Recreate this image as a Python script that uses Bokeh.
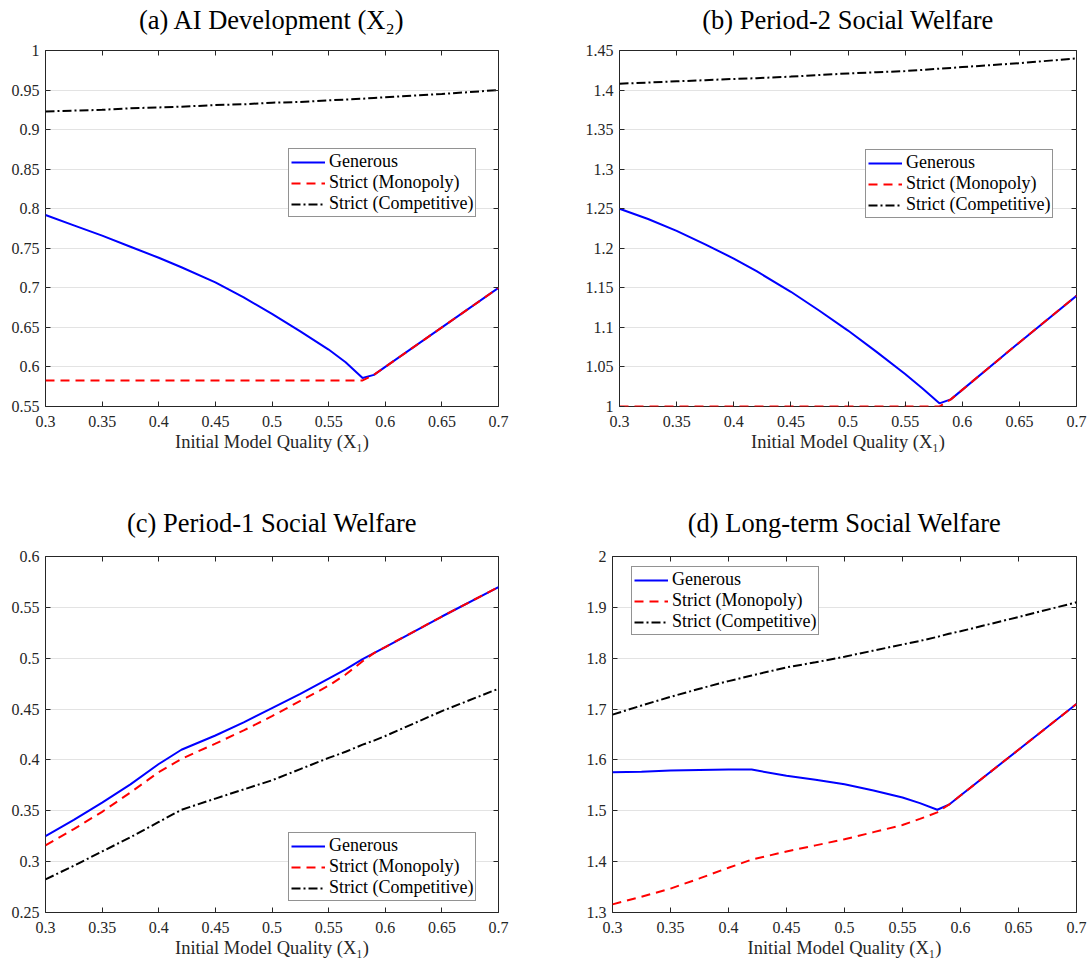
from bokeh.plotting import figure
from bokeh.layouts import column, row
from bokeh.models import Range1d, FixedTicker, LinearAxis, CustomJSTickFormatter
from bokeh.embed import file_html
from bokeh.resources import INLINE

# ---------------- data ----------------
x1 = [0.30, 0.325, 0.35, 0.375, 0.40, 0.42, 0.45, 0.475, 0.50, 0.525, 0.55, 0.565, 0.58, 0.59, 0.60, 0.65, 0.70]

# (a) AI Development (X2)
a_generous = [0.792, 0.779, 0.766, 0.752, 0.738, 0.726, 0.707, 0.688, 0.667, 0.645, 0.622, 0.606, 0.586, 0.590, 0.600, 0.650, 0.700]
a_monopoly = [0.583, 0.583, 0.583, 0.583, 0.583, 0.583, 0.583, 0.583, 0.583, 0.583, 0.583, 0.583, 0.583, 0.590, 0.600, 0.650, 0.700]
a_competitive = [0.923, 0.924, 0.925, 0.927, 0.928, 0.929, 0.931, 0.932, 0.934, 0.935, 0.937, 0.938, 0.939, 0.940, 0.941, 0.945, 0.950]

# (b) Period-2 Social Welfare
b_generous = [1.250, 1.237, 1.222, 1.205, 1.187, 1.171, 1.145, 1.121, 1.096, 1.069, 1.041, 1.023, 1.004, 1.009, 1.021, 1.081, 1.140]
b_monopoly = [1.000, 1.000, 1.000, 1.000, 1.000, 1.000, 1.000, 1.000, 1.000, 1.000, 1.000, 1.000, 1.000, 1.009, 1.021, 1.081, 1.140]
b_competitive = [1.408, 1.4095, 1.411, 1.4125, 1.414, 1.415, 1.417, 1.419, 1.421, 1.4225, 1.424, 1.4255, 1.427, 1.428, 1.429, 1.434, 1.440]

# (c) Period-1 Social Welfare
c_generous = [0.325, 0.341, 0.358, 0.376, 0.396, 0.410, 0.424, 0.437, 0.451, 0.465, 0.480, 0.489, 0.499, 0.505, 0.511, 0.541, 0.570]
c_monopoly = [0.316, 0.332, 0.349, 0.368, 0.388, 0.401, 0.416, 0.429, 0.443, 0.458, 0.473, 0.484, 0.497, 0.505, 0.511, 0.541, 0.570]
c_competitive = [0.2825, 0.296, 0.310, 0.324, 0.339, 0.351, 0.362, 0.371, 0.380, 0.391, 0.402, 0.408, 0.415, 0.419, 0.4235, 0.448, 0.470]

# (d) Long-term Social Welfare
d_generous = [1.576, 1.577, 1.579, 1.580, 1.581, 1.581, 1.569, 1.561, 1.552, 1.540, 1.526, 1.515, 1.502, 1.512, 1.530, 1.620, 1.710]
d_monopoly = [1.316, 1.331, 1.347, 1.367, 1.388, 1.404, 1.420, 1.432, 1.444, 1.458, 1.472, 1.484, 1.497, 1.512, 1.530, 1.620, 1.710]
d_competitive = [1.689, 1.707, 1.724, 1.740, 1.755, 1.766, 1.782, 1.792, 1.803, 1.815, 1.827, 1.834, 1.842, 1.848, 1.853, 1.881, 1.910]

x_ticks = [0.3, 0.35, 0.4, 0.45, 0.5, 0.55, 0.6, 0.65, 0.7]
a_yticks = [0.55, 0.6, 0.65, 0.7, 0.75, 0.8, 0.85, 0.9, 0.95, 1.0]
b_yticks = [1.0, 1.05, 1.1, 1.15, 1.2, 1.25, 1.3, 1.35, 1.4, 1.45]
c_yticks = [0.25, 0.3, 0.35, 0.4, 0.45, 0.5, 0.55, 0.6]
d_yticks = [1.3, 1.4, 1.5, 1.6, 1.7, 1.8, 1.9, 2.0]

titles = ["(a) AI Development (X\u2082)", "(b) Period-2 Social Welfare",
          "(c) Period-1 Social Welfare", "(d) Long-term Social Welfare"]
xlabel = "Initial Model Quality (X\u2081)"
series_names = ["Generous", "Strict (Monopoly)", "Strict (Competitive)"]

FONT = "Liberation Serif"
AX = "#262626"
fmt = CustomJSTickFormatter(code="return String(Number(tick.toFixed(4)));")
blank = CustomJSTickFormatter(code="return '';")


def panel(title, gen, mono, comp, yticks, legend_loc, width, height, bl, br, bt, bb, title_pad):
    p = figure(width=width, height=height, output_backend="svg", toolbar_location=None,
               x_range=Range1d(x_ticks[0], x_ticks[-1]), y_range=Range1d(yticks[0], yticks[-1]),
               min_border_left=bl, min_border_right=br, min_border_top=bt, min_border_bottom=bb,
               background_fill_color="white", border_fill_color="white")
    p.outline_line_color = AX
    p.outline_line_width = 1
    p.outline_line_alpha = 1

    p.xaxis.ticker = FixedTicker(ticks=x_ticks)
    p.yaxis.ticker = FixedTicker(ticks=yticks)
    for ax in (p.xaxis[0], p.yaxis[0]):
        ax.formatter = fmt
        ax.major_tick_in = 5
        ax.major_tick_out = 0
        ax.minor_tick_line_color = None
        ax.axis_line_color = None
        ax.major_tick_line_color = AX
        ax.major_label_text_font = FONT
        ax.major_label_text_font_size = "16px"
        ax.major_label_text_color = AX
    p.xaxis.major_label_standoff = 9
    p.yaxis.major_label_standoff = 6
    p.xaxis.axis_label = xlabel
    p.xaxis.axis_label_text_font = FONT
    p.xaxis.axis_label_text_font_size = "18.5px"
    p.xaxis.axis_label_text_font_style = "normal"
    p.xaxis.axis_label_text_color = AX
    p.xaxis.axis_label_standoff = 2

    # mirrored tick marks on the top and right edges (MATLAB "box on" look)
    for loc, tk in (("above", x_ticks), ("right", yticks)):
        m = LinearAxis(ticker=FixedTicker(ticks=tk), formatter=blank,
                       major_label_text_font_size="1px",
                       major_tick_in=5, major_tick_out=0, minor_tick_line_color=None,
                       axis_line_color=None, major_tick_line_color=AX, major_label_standoff=0)
        p.add_layout(m, loc)

    p.title.text = title
    p.title.text_font = FONT
    p.title.text_font_size = "26.5px"
    p.title.text_font_style = "normal"
    p.title.text_color = "black"
    p.title.align = "center"
    p.title.standoff = 4
    p.title.padding = dict(left=0, right=0, top=0, bottom=title_pad)

    p.xgrid.grid_line_color = None
    p.ygrid.grid_line_color = "#e3e3e3"
    p.ygrid.grid_line_width = 1
    p.ygrid.ticker = FixedTicker(ticks=yticks)

    p.line(x1, gen, line_color="#0000ff", line_width=2, legend_label=series_names[0])
    p.line(x1, mono, line_color="#ff0000", line_width=2, line_dash="9 6", legend_label=series_names[1])
    p.line(x1, comp, line_color="black", line_width=2, line_dash="9 3 2 3", legend_label=series_names[2])

    lg = p.legend[0]
    lg.location = legend_loc
    lg.margin = 0
    lg.padding = 2
    lg.spacing = 0
    lg.label_height = 20
    lg.glyph_height = 20
    lg.glyph_width = 34
    lg.label_standoff = 4
    lg.label_text_font = FONT
    lg.label_text_font_size = "18px"
    lg.label_text_color = "black"
    lg.border_line_color = AX
    lg.border_line_width = 1
    lg.background_fill_color = "white"
    lg.background_fill_alpha = 1
    return p


pa = panel(titles[0], a_generous, a_monopoly, a_competitive, a_yticks, (243, 189), 538, 478, 45, 40, 48, 72, 14)
pb = panel(titles[1], b_generous, b_monopoly, b_competitive, b_yticks, (246, 188), 553, 478, 81, 15, 48, 72, 14)
pc = panel(titles[2], c_generous, c_monopoly, c_competitive, c_yticks, (243, 11), 538, 482, 45, 40, 78, 46, 17)
pd = panel(titles[3], d_generous, d_monopoly, d_competitive, d_yticks, (19, 277), 553, 482, 74, 15, 78, 46, 17)

layout = column(row(pa, pb), row(pc, pd))
open("out.html", "w").write(file_html(layout, INLINE))
